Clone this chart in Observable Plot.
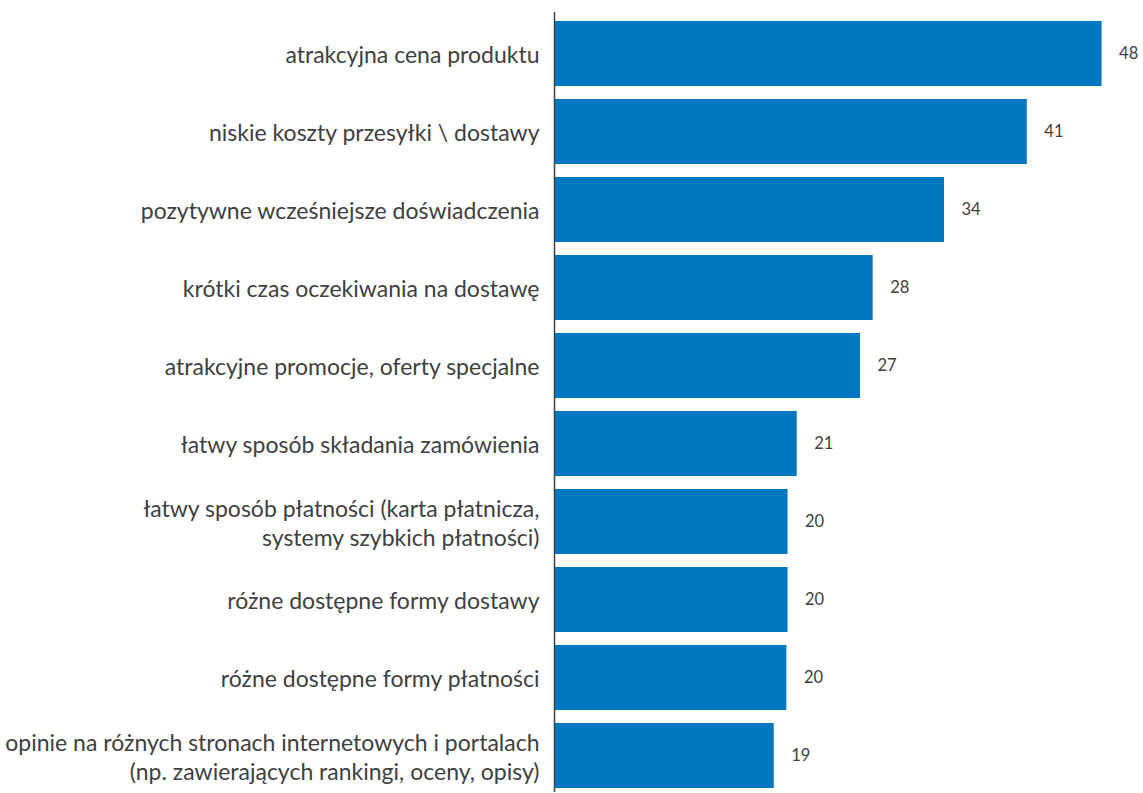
<!DOCTYPE html>
<html>
<head>
<meta charset="utf-8">
<script src="https://cdn.jsdelivr.net/npm/d3@7"></script>
<script src="https://cdn.jsdelivr.net/npm/@observablehq/plot@0.6"></script>
<style>
  html, body { margin: 0; padding: 0; background: #fff; }
  #chart svg { display: block; }
</style>
</head>
<body>
<div id="chart"></div>
<script>
const categories = [
  "atrakcyjna cena produktu",
  "niskie koszty przesyłki \\ dostawy",
  "pozytywne wcześniejsze doświadczenia",
  "krótki czas oczekiwania na dostawę",
  "atrakcyjne promocje, oferty specjalne",
  "łatwy sposób składania zamówienia",
  "łatwy sposób płatności (karta płatnicza,\nsystemy szybkich płatności)",
  "różne dostępne formy dostawy",
  "różne dostępne formy płatności",
  "opinie na różnych stronach internetowych i portalach\n(np. zawierających rankingi, oceny, opisy)"
];
const values = [47.6, 41.1, 33.9, 27.7, 26.6, 21.1, 20.3, 20.3, 20.2, 19.1];
const valueLabels = ["48", "41", "34", "28", "27", "21", "20", "20", "20", "19"];

const data = categories.map((c, i) => ({category: c, value: values[i], label: valueLabels[i]}));

const chart = Plot.plot({
  width: 1143,
  height: 793,
  marginLeft: 554,
  marginRight: 0,
  marginTop: 16,
  marginBottom: 1,
  style: {fontFamily: "Lato, 'Open Sans', sans-serif", color: "#404040", background: "#fff"},
  x: {domain: [0, 51.2], axis: null},
  y: {domain: categories, paddingInner: 0.17, paddingOuter: 0.02, label: null},
  marks: [
    Plot.barX(data, {x: "value", y: "category", fill: "#0077C1"}),
    Plot.text(data, {x: "value", y: "category", text: "label", dx: 17, textAnchor: "start", fontSize: 16.5, fill: "#404040"}),
    Plot.axisY({tickSize: 0, tickPadding: 15, fontSize: 23, lineHeight: 1.27, fill: "#404040", label: null}),
    Plot.ruleX([0], {stroke: "#404040", strokeWidth: 1.5, insetTop: -4})
  ]
});
document.getElementById("chart").appendChild(chart);
</script>
</body>
</html>
